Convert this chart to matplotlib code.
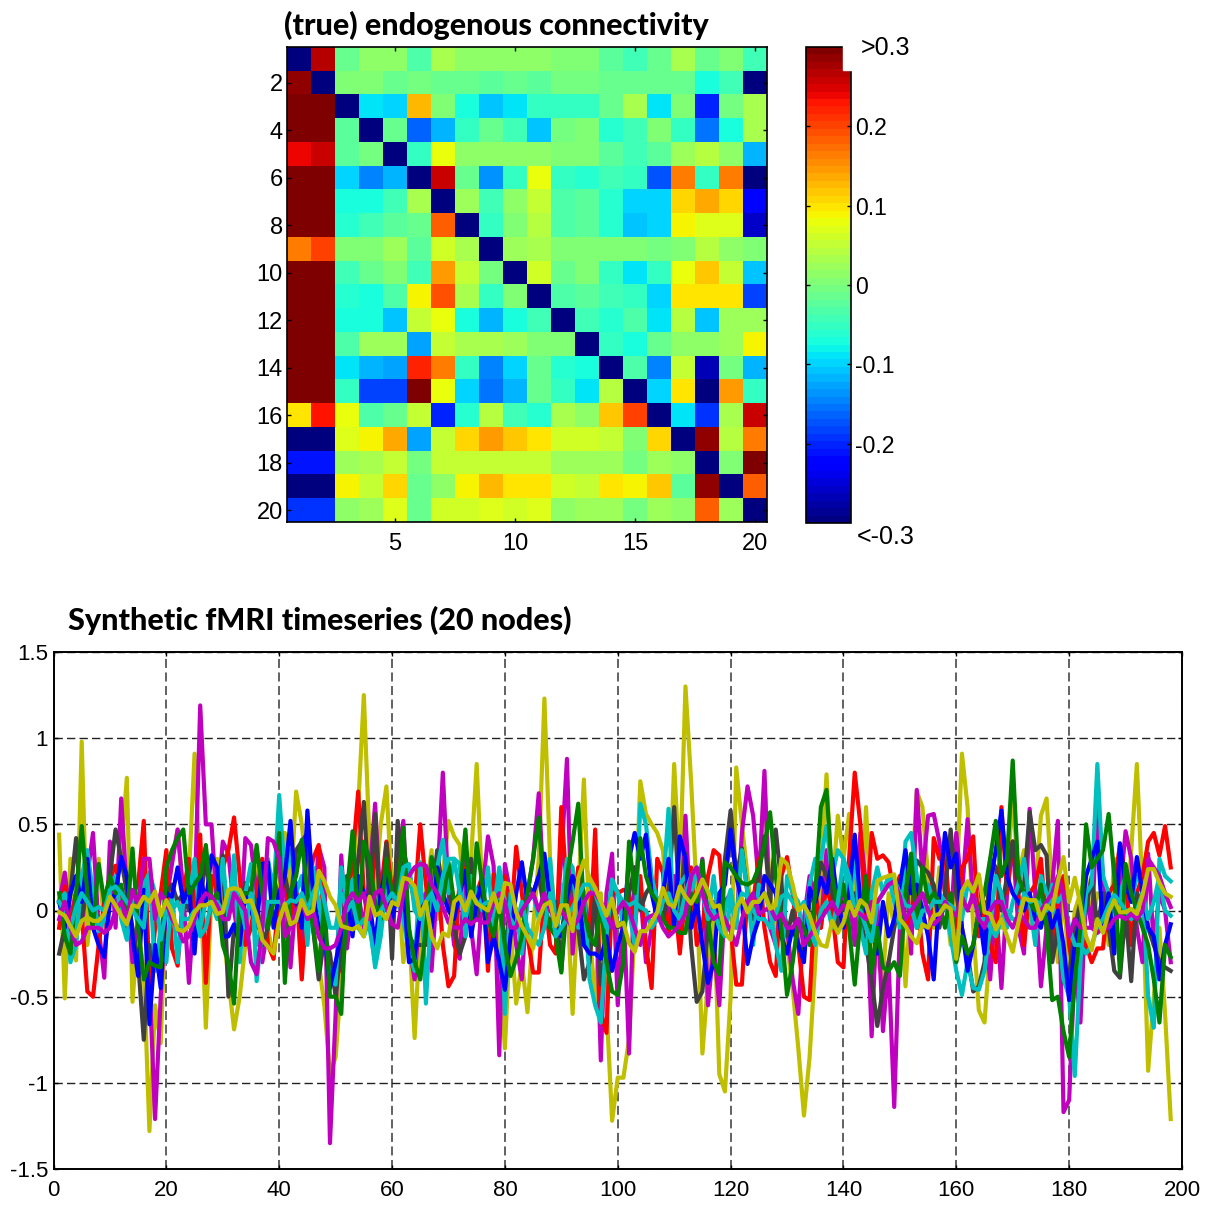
import matplotlib
matplotlib.use("Agg")
import matplotlib.pyplot as plt
import numpy as np
from matplotlib.patches import Rectangle

W = 1212
H = 1205

conn = [
 [-.3,.27,-.01,.01,.01,-.03,.03,.015,.01,.01,.01,0,.005,-.02,-.04,-.01,.03,-.01,0,-.04],
 [.29,-.3,0,.005,-.015,-.005,-.015,-.015,-.025,-.015,-.02,-.003,-.003,-.01,-.01,-.01,-.01,-.07,-.04,-.3],
 [.31,.31,-.3,-.085,-.095,.125,.005,-.07,-.105,-.09,-.05,-.05,-.055,-.015,.03,-.09,.005,-.205,-.005,.03],
 [.31,.31,-.02,-.3,-.015,-.16,-.115,-.055,-.015,-.04,-.105,-.003,.005,-.065,-.045,0,-.05,-.155,-.075,.03],
 [.235,.26,-.02,-.005,-.3,-.05,.075,.01,.01,.015,.015,0,0,-.02,-.04,-.02,.025,.04,.015,-.115],
 [.31,.31,-.1,-.15,-.12,-.3,.26,-.015,-.14,-.05,.075,-.055,-.065,-.045,-.05,-.175,.16,-.055,.165,-.3],
 [.31,.31,-.07,-.07,-.04,.03,-.3,.02,-.045,.01,.055,-.035,-.02,-.06,-.095,-.095,.11,.135,.105,-.22],
 [.31,.31,-.065,-.045,-.025,-.015,.18,-.3,-.05,.005,.045,-.035,-.025,-.065,-.105,-.095,.09,.07,.07,-.26],
 [.165,.2,0,0,.025,-.02,.06,.035,-.3,.02,.03,0,.005,.005,.005,-.005,.005,.045,.015,0],
 [.31,.31,-.04,-.01,.005,-.04,.145,.05,-.005,-.3,.06,-.01,0,-.05,-.09,-.055,.075,.115,.055,-.105],
 [.31,.31,-.065,-.075,-.03,.085,.195,.035,-.055,0,-.3,-.03,-.02,-.04,-.055,-.1,.1,.1,.1,-.18],
 [.31,.31,-.075,-.075,-.11,.055,.075,-.07,-.115,-.075,-.04,-.3,-.04,-.065,-.03,-.09,.04,-.105,.025,.02],
 [.31,.31,-.03,.025,.02,-.125,.05,.03,.03,.025,0,0,-.3,-.05,-.07,-.01,.015,.01,.02,.085],
 [.31,.31,-.09,-.115,-.125,.22,.16,-.05,-.15,-.095,-.015,-.065,-.07,-.3,-.03,-.15,.055,-.265,-.005,-.115],
 [.31,.31,-.05,-.185,-.185,.31,.075,-.1,-.155,-.115,-.01,-.05,-.085,.04,-.3,-.1,.095,-.3,.145,-.05],
 [.095,.225,.08,-.03,-.015,.055,-.205,-.065,.04,-.04,-.06,.03,.015,.115,.2,-.3,-.09,-.19,.03,.26],
 [-.3,-.3,.07,.085,.135,-.125,.055,.11,.145,.115,.1,.06,.06,.05,0,.11,-.3,.29,.04,.16],
 [-.215,-.215,.025,.03,.05,-.005,.05,.05,.05,.05,.05,.025,.025,.025,-.005,.025,.01,-.3,0,.3],
 [-.3,-.3,.085,.05,.105,-.01,.01,.085,.125,.095,.095,.06,.05,.095,.09,.115,-.02,.29,-.3,.185],
 [-.19,-.19,.015,.025,.07,-.01,.06,.06,.07,.06,.07,.015,.02,.02,-.005,.02,.01,.18,.025,-.3],
]

# spiky nodes, one value per scan (1..198)
olive = [.44,-.51,.3,-.29,.98,-.2,.1,.3,-.1,.2,
 .15,.35,.77,-.53,-.1,-.35,-1.28,-.55,-.77,.1,
 .3,.47,.1,.2,.91,.2,-.68,.1,.3,-.1,
 -.4,-.69,-.5,-.2,.1,.25,.05,-.1,-.28,.1,
 .45,.1,.69,.5,.2,-.1,-.3,-.55,-.95,-.85,
 -.4,-.1,.2,.6,1.25,.4,.1,.5,.72,.1,
 .2,-.3,-.1,-.74,-.1,.1,.35,-.05,.2,.52,
 .43,.38,0,.3,.85,.1,-.2,.15,-.3,-.8,
 -.1,-.54,-.3,-.59,-.1,.3,1.23,.3,-.1,.15,
 .1,-.6,.1,.76,-.1,-.55,.1,-.55,-1.22,-.97,
 -.97,-.75,-.1,.75,.56,.5,.45,.35,-.05,.85,
 .2,1.3,.75,.1,-.83,-.4,.05,-.95,-1.05,-.5,
 .83,.5,.2,-.1,.1,.75,.1,-.1,.2,-.2,
 -.45,-.8,-1.19,-.85,-.3,.2,.79,.1,.55,.3,
 .56,0,-.15,.6,-.1,-.3,-.4,.1,-.1,.2,
 -.44,.1,.69,.6,.2,-.1,.25,.1,-.2,.1,
 .91,.6,-.1,-.58,-.65,-.2,.05,-.1,.2,.66,
 .2,.35,-.1,.1,.55,.65,.1,-.3,.1,-.35,
 0,.1,.2,-.1,.1,.05,-.2,.3,.1,-.15,
 .35,.85,.1,-.93,-.5,-.1,-.6,-1.21]

magenta = [.05,.22,-.05,.1,-.1,.2,.45,-.1,-.39,.4,
 -.1,.65,.1,-.3,-.05,.3,-.4,-1.21,-.5,.05,
 .27,.47,.1,-.42,.05,1.19,.5,.5,0,.4,
 .33,0,-.2,.42,.38,.1,-.3,-.1,.2,.05,
 .2,-.33,.1,-.2,.05,-.1,.37,.25,-1.35,-.6,
 .32,-.22,.05,.1,-.1,.2,.62,0,.3,-.15,
 .3,.52,-.2,-.4,.05,.1,-.35,.15,.8,.1,
 -.2,-.28,.3,-.1,-.37,.1,.43,.26,-.84,.27,
 .1,-.2,-.4,.1,.3,.68,.05,.1,-.1,.3,
 .88,-.25,.15,-.2,-.05,.25,-.87,.1,.33,-.55,
 .05,-.83,.25,.1,-.3,-.1,0,.1,-.05,.2,
 -.2,.55,-.1,-.05,.3,-.55,-.2,-.55,.05,.1,
 -.1,.45,.72,.55,.15,.81,-.1,-.2,.05,-.1,
 -.4,-.6,-.05,.2,.1,-.1,.35,.05,-.1,.15,
 .1,-.2,.45,.15,-.73,.05,-.7,-.3,-1.14,-.1,
 .3,-.25,.7,.2,.55,.56,.4,.1,-.1,.45,
 .1,.53,.05,.2,-.1,-.4,.05,-.45,.1,.4,
 -.1,-.25,.59,.1,-.44,-.1,.15,.52,-1.17,-1.1,
 -.3,-.65,.1,-.1,.6,.2,-.1,.05,.1,.46,
 .3,-.1,-.3,.33,-.2,.1,0,-.3]

red = [-.1,.14,-.1,.1,-.02,-.47,-.5,-.2,.05,.2,
 .26,0,-.1,.1,.15,.52,-.45,-.1,.1,.35,
 -.22,-.32,.1,.3,-.05,.44,-.42,.2,.12,.25,
 .35,.54,.2,-.2,-.1,.1,.3,-.2,-.28,.1,
 .2,-.05,.16,-.4,.1,.3,.38,-.1,-.4,-.3,
 -.35,0,.3,.69,.1,-.1,.38,.1,.4,.1,
 .25,.36,.2,.05,.5,.15,-.05,.25,-.2,-.44,
 -.38,.2,.25,-.05,.1,.2,-.35,.21,.1,.2,
 -.1,.37,.1,-.15,-.36,-.36,.1,-.2,-.25,.6,
 .1,-.05,.25,.1,-.2,.47,-.59,-.71,.1,.1,
 .12,.1,-.1,.2,-.2,-.45,.3,.22,-.15,.1,
 -.25,.1,.25,-.2,-.1,.2,.35,.32,-.1,-.1,
 -.43,-.43,.1,.05,.3,-.1,-.3,-.38,.2,.31,
 .1,-.2,-.5,-.52,.1,-.1,.15,0,-.3,-.33,
 .3,.8,.5,-.1,.45,.3,.32,.28,.1,.2,
 -.1,0,.1,-.25,-.4,.42,.3,.35,-.1,-.1,
 .25,.3,.43,-.15,.05,-.2,-.3,.6,.1,.4,
 .1,-.2,.1,.15,.3,-.1,-.2,.1,.2,-.2,
 -.4,-.1,-.2,-.3,-.22,-.22,.1,.15,.38,.2,
 -.2,.1,.2,.4,.45,.32,.49,.25]

green = [.1,-.15,-.25,.1,.49,.1,-.1,.27,.05,.2,
 .1,.15,-.05,.36,-.1,-.4,-.3,-.32,-.33,.25,
 .35,.42,.47,.1,.15,.2,.38,.05,.1,-.2,
 -.3,-.54,.05,.1,.1,.38,.1,-.1,.05,.45,
 -.42,.1,.2,.41,.1,-.1,-.35,.05,-.5,-.5,
 -.6,.1,.46,-.1,.4,.3,.05,-.05,.3,.1,
 .1,.48,-.1,-.3,-.4,-.1,.31,.2,.05,.28,
 .05,.1,.47,-.05,.39,.15,-.05,-.15,.05,-.2,
 -.38,-.28,-.15,.1,.3,.54,.05,-.1,-.15,-.36,
 .2,.4,.62,0,-.15,-.2,.04,-.3,-.47,-.49,
 -.3,.4,.1,.42,.2,.1,.05,-.05,-.1,-.1,
 -.13,-.13,.1,.05,.29,-.05,-.3,-.37,.28,.25,
 .2,.16,.15,.17,.25,.38,.57,.2,-.1,-.49,
 -.3,-.05,-.1,-.2,.1,.6,.7,.2,.02,.15,
 -.1,-.43,-.05,.2,-.36,-.1,-.33,-.35,-.3,-.38,
 .1,.33,-.1,.25,.05,.1,.05,-.1,.1,-.3,
 -.15,-.25,-.2,0,.1,.3,.52,.2,.3,.87,
 .2,.1,.05,0,.15,-.1,-.52,-.5,-.7,-.85,
 -.4,-.1,.5,.25,.3,.35,.56,.2,-.36,.27,
 .1,0,-.1,-.2,-.4,-.65,-.2,-.27]

blue = [.05,-.1,.1,.2,.05,.3,-.1,-.2,-.27,.05,
 .1,.31,.2,-.15,-.38,.12,-.66,-.2,-.45,.1,
 .08,.25,.05,.14,-.25,.2,.05,.32,.25,-.15,
 -.15,-.08,-.2,.1,0,-.1,.27,.28,-.1,.1,
 .2,.52,.05,-.1,.58,.1,-.1,-.13,-.45,-.3,
 -.13,.07,-.15,.2,.1,.05,-.2,.1,.25,-.05,
 .1,.15,-.3,-.28,0,.05,-.1,.25,.1,0,
 -.05,.1,.23,-.15,.05,.18,-.3,-.15,-.3,-.46,
 -.15,.1,.28,.05,.1,.2,.33,.05,-.1,-.15,
 .09,.2,.1,-.2,-.25,-.25,-.28,-.15,-.35,-.2,
 -.1,.3,.45,.3,.44,.1,-.05,.1,.3,-.1,
 .43,.3,-.1,.05,-.2,-.42,-.3,.1,.15,.47,
 .2,.05,-.31,-.15,-.05,.2,.15,.1,-.15,-.25,
 -.1,-.2,-.3,.13,.05,.19,.1,.3,.05,-.1,
 .1,.44,.05,0,-.1,-.25,.05,-.15,-.05,.15,
 .35,.1,.15,0,-.15,-.4,.1,.45,.25,.33,
 -.1,-.35,-.2,0,-.25,.15,.35,.58,.2,.1,
 .05,0,.1,-.05,-.1,.05,-.1,0,-.2,-.52,
 -.2,-.05,.2,.3,.4,-.1,.1,-.25,.39,.15,
 .05,.31,.1,-.1,-.15,-.4,-.2,-.08]

cyan = [.05,.1,-.3,-.2,.2,.35,.1,-.12,-.05,.15,
 .2,-.05,-.17,.1,-.1,.15,.22,-.35,-.1,-.3,
 .1,-.3,.05,.05,.3,-.1,.05,.05,-.05,.3,
 -.05,.32,-.3,.1,.27,-.41,-.1,.3,.1,.67,
 .2,.35,.1,.2,-.2,.25,.05,-.15,-.4,-.43,
 .25,.05,.18,-.1,-.15,-.05,-.33,-.15,.15,.1,
 .05,-.05,-.25,-.35,.28,-.54,.05,.25,.41,.1,
 .3,.27,-.15,.2,.1,0,.25,-.1,.2,-.6,
 .1,0,-.25,.05,.1,-.05,.1,.3,-.1,0,
 .3,.25,-.1,.1,-.4,-.55,-.65,-.15,.18,.1,
 -.1,0,-.2,.62,.5,.2,.05,.1,.59,-.1,
 .15,.2,.1,.22,.2,-.05,.2,-.1,0,.12,
 -.1,.35,.1,-.2,.15,.1,0,-.2,-.35,.2,
 .1,.05,-.2,.15,.3,.3,.49,.2,.35,.3,
 .05,.3,-.1,-.25,.1,.25,.1,.2,.05,-.1,
 .4,.45,.2,-.1,.15,.05,.1,.05,-.15,-.35,
 -.49,-.3,-.45,-.46,-.35,-.1,.2,.1,-.1,.05,
 .15,.3,.05,-.2,.2,.1,.05,-.1,-.4,-.5,
 -.96,-.3,.1,.15,.85,.2,.1,-.15,.1,.2,
 .05,.2,.15,-.5,-.68,.3,.2,.17]

grey = [-.25,-.1,.1,.42,-.05,.2,.1,-.1,-.05,.2,
 .47,.3,.1,-.1,-.3,-.75,-.2,-.3,-.15,.1,
 .15,.05,.1,0,.2,.05,.3,.05,.1,.32,
 -.5,-.1,-.05,.16,.1,.05,-.2,-.1,.15,.05,
 .2,.05,.35,.4,.45,-.1,-.4,-.15,-.25,-.5,
 -.2,.2,-.05,.3,.63,.05,.56,-.1,.39,-.28,
 .52,.1,-.15,-.2,-.2,-.2,.05,.35,.1,.15,
 -.1,-.25,-.15,.3,-.05,.1,0,-.1,.05,-.3,
 .1,0,-.2,.15,.1,.2,0,-.1,.05,-.35,
 .05,.2,-.1,-.4,-.3,.1,-.43,-.2,.05,-.1,
 -.05,.1,.25,0,.1,.15,.05,-.05,.1,.6,
 0,.33,-.2,-.53,-.47,-.1,.05,-.1,.3,.58,
 .2,.36,.1,-.05,.2,.43,.05,.47,.15,-.15,
 0,-.2,-.25,.05,.1,.28,.2,.1,-.1,.05,
 0,.1,-.05,-.2,-.4,-.67,-.45,-.3,-.1,.1,
 .05,.15,.29,.25,.22,.15,-.1,.1,.47,.1,
 -.1,-.25,-.47,-.44,-.3,.3,.25,0,.2,.4,
 .1,.15,.57,.35,.38,.32,-.3,-.1,-.42,-.38,
 -.1,.05,0,.2,-.1,.1,-.1,-.35,-.39,0,
 -.41,.1,.05,-.1,-.2,-.3,-.33,-.35]

# low amplitude nodes drawn last
cyan_low = [.05,0,-.1,.02,.1,.05,0,.02,0,.12,
 .14,.1,.05,0,-.05,-.1,.22,.1,-.17,0,
 0,.05,-.05,-.05,0,-.15,-.1,.05,.05,0,
 .05,.15,.05,-.1,.1,-.2,-.1,.05,.05,.05,
 .03,.06,.05,.1,0,.1,.18,.05,-.1,-.1,
 .1,0,.05,-.1,-.05,-.1,-.3,0,.05,.1,
 .05,.25,.27,0,-.05,.05,.1,0,.2,.3,
 .3,.1,-.05,.1,.05,.03,.05,0,.25,.05,
 -.05,-.1,.05,-.1,-.15,-.2,-.1,.1,-.15,-.1,
 -.05,.02,.08,.15,.15,.1,0,-.1,.17,.1,
 .05,.03,.05,.02,0,-.1,-.05,.05,.1,0,
 -.05,.1,.2,.25,.1,-.05,0,-.1,-.15,.05,
 -.02,.1,.08,0,-.05,-.05,-.1,-.02,.08,.1,
 .05,0,.05,-.1,-.2,0,.05,-.1,.05,.3,
 .2,0,0,-.1,-.18,.05,.1,.2,.18,.1,
 .03,.02,-.1,0,0,.05,.05,.05,.03,0,
 -.05,.15,.1,-.05,-.05,-.1,-.15,-.05,0,-.05,
 -.05,.1,.05,.06,.03,0,.15,.05,.1,-.1,
 -.2,-.2,-.25,-.2,-.1,-.05,.03,.09,.05,0,
 -.05,0,.1,-.05,.05,.2,0,-.03]

magenta_low = [-.05,.05,-.1,-.2,-.18,-.1,-.1,-.1,-.13,-.1,
 0,.05,-.05,.12,.03,.3,.3,-.05,.1,.05,
 -.05,-.1,-.18,-.15,-.05,.05,.1,.08,.03,-.05,
 -.05,.1,.05,0,-.3,-.37,-.1,.42,.4,.3,
 -.15,-.1,0,.05,-.05,0,-.15,-.22,-.22,-.2,
 -.1,.05,.1,.05,.1,-.05,.1,.12,.02,-.08,
 -.1,.1,.2,.25,.27,.26,.15,.1,.02,-.07,
 -.1,-.1,-.05,-.08,-.05,-.07,-.07,.05,.1,.05,
 -.1,-.1,0,.05,.1,0,.1,0,-.05,0,
 -.05,-.1,-.05,.05,.1,.1,.05,-.02,-.1,0,
 .05,0,-.1,-.2,-.05,-.03,-.02,-.1,-.15,-.12,
 -.08,-.02,.2,.25,.1,0,-.05,-.02,-.05,-.12,
 -.2,-.05,.05,.1,-.02,0,.02,-.05,-.02,-.1,
 -.1,-.05,-.2,-.15,-.1,-.05,0,.05,-.02,.03,
 .02,0,-.02,-.05,.05,.05,.1,.15,.17,.08,
 -.05,0,.05,.1,0,-.08,-.05,.05,0,-.03,
 .08,0,.1,-.05,-.1,0,.05,.05,-.05,-.1,
 -.02,-.05,-.1,-.1,0,.05,.1,.2,.1,-.15,
 -.05,-.1,-.1,-.1,-.13,-.1,-.1,-.05,-.03,-.05,
 -.02,-.05,0,.3,.25,.2,.1,.02]

olive_low = [-.01,-.03,-.09,-.15,-.06,-.04,-.06,-.06,-.02,.08,
 .03,-.03,-.08,.03,.02,.08,.05,.11,-.03,.06,
 -.01,-.11,-.12,-.09,-.01,.03,.03,.05,-.02,-.01,
 .12,.13,.12,.05,.06,-.03,-.17,-.21,-.25,-.06,
 .04,-.08,-.06,.06,-.02,0,.23,.17,.08,.03,
 -.09,-.1,-.11,-.09,-.15,.08,-.03,-.01,-.05,.05,
 .03,.19,.18,.14,-.03,.05,-.15,-.22,-.13,-.15,
 .05,.08,0,.11,.04,.02,0,.1,-.01,.16,
 .15,-.01,-.09,-.15,-.22,-.05,.03,.05,-.09,.03,
 .03,-.12,.19,.29,.19,.13,.05,-.03,.07,-.09,
 -.07,-.19,-.24,-.12,-.12,-.07,-.01,.13,.04,.02,
 .14,.08,.04,.1,.18,.11,.02,.03,-.13,-.17,
 .02,.07,-.01,.05,.05,.1,.01,.03,.3,.27,
 .15,0,.03,-.03,-.13,-.2,-.21,-.06,-.13,-.07,
 .05,-.03,.06,.03,-.07,.17,.19,.2,.21,-.05,
 -.09,-.15,-.19,-.08,-.1,-.03,-.02,.03,.01,-.28,
 .11,.17,.11,.21,-.01,-.02,-.11,-.05,-.15,-.24,
 -.07,.07,.06,.06,-.05,.03,0,.17,.31,.05,
 .19,.03,-.15,-.23,-.05,-.13,-.01,.06,-.01,-.01,
 .01,-.02,.09,.24,.24,.16,.1,.08]

cbar_ticks = [-.2, -.1, 0, .1, .2]
cbar_labels = ["-0.2", "-0.1", "0", "0.1", "0.2"]
y_ticks = [-1.5, -1, -.5, 0, .5, 1, 1.5]
y_labels = ["-1.5", "-1", "-0.5", "0", "0.5", "1", "1.5"]


def box(x0, y0, x1, y1):
    # pixel box (top left origin) to figure fractions
    return [x0 / W, 1 - y1 / H, (x1 - x0) / W, (y1 - y0) / H]


plt.rcParams["font.family"] = ["Liberation Sans", "DejaVu Sans"]
plt.rcParams["font.size"] = 16

fig = plt.figure(figsize=(W / 100, H / 100), dpi=100)

ax1 = fig.add_axes(box(287, 47, 767, 522))
im = ax1.imshow(conn, cmap=plt.get_cmap("jet", 64), vmin=-.3, vmax=.3,
                aspect="auto", interpolation="nearest")
ax1.set_xticks([4, 9, 14, 19])
ax1.set_xticklabels(["5", "10", "15", "20"])
ax1.set_yticks(np.arange(1, 20, 2))
ax1.set_yticklabels([str(i) for i in range(2, 21, 2)])
ax1.tick_params(direction="in", length=3, width=1, top=True, right=True, labelsize=17)
ax1.tick_params(axis="x", pad=8)
ax1.tick_params(axis="y", pad=3)
for s in ax1.spines.values():
    s.set_linewidth(1.2)

cax = fig.add_axes(box(806, 47, 851, 523))
cb = fig.colorbar(im, cax=cax, ticks=cbar_ticks)
cb.ax.set_yticklabels(cbar_labels)
cb.ax.tick_params(direction="in", length=3, width=1, left=True, right=True, pad=3, labelsize=16.5)
cb.outline.set_linewidth(1.2)
cax.add_patch(Rectangle((.82, .952), .25, .06, transform=cax.transAxes,
                        color="white", clip_on=False, zorder=10))
fig.text(861 / W, 1 - 48 / H, ">0.3", ha="left", va="center", size=18)
fig.text(857 / W, 1 - 537 / H, "<-0.3", ha="left", va="center", size=18)

ax2 = fig.add_axes(box(53.5, 652, 1182, 1169))
x = np.arange(1, 199)
ax2.plot(x, olive, color="#bfbf00", lw=3)
ax2.plot(x, magenta, color="#bf00bf", lw=3)
ax2.plot(x, red, color="#ff0000", lw=3)
ax2.plot(x, grey, color="#404040", lw=3)
ax2.plot(x, cyan, color="#00bfbf", lw=3)
ax2.plot(x, blue, color="#0000ff", lw=3)
ax2.plot(x, green, color="#007f00", lw=3)
ax2.plot(x, cyan_low, color="#00bfbf", lw=3)
ax2.plot(x, magenta_low, color="#bf00bf", lw=3)
ax2.plot(x, olive_low, color="#bfbf00", lw=3)
ax2.set_xlim(0, 200)
ax2.set_ylim(-1.5, 1.5)
ax2.set_xticks(np.arange(0, 201, 20))
ax2.set_yticks(y_ticks)
ax2.set_yticklabels(y_labels)
ax2.grid(True, axis="y", color="#222222", linestyle=(0, (6, 3)), linewidth=1)
ax2.grid(True, axis="x", color="#555555", linestyle=(0, (5, 2.5)), linewidth=1.3)
ax2.set_axisbelow(True)
ax2.tick_params(direction="in", length=3, width=1, top=True, right=True)
ax2.tick_params(axis="x", pad=8)
ax2.tick_params(axis="y", pad=4)
for s in ax2.spines.values():
    s.set_linewidth(1.4)

fig.text(284 / W, 1 - 25 / H, "(true) endogenous connectivity", family="Lato",
         weight="black", size=22, ha="left", va="center")
fig.text(68 / W, 1 - 620 / H, "Synthetic fMRI timeseries (20 nodes)", family="Lato",
         weight="black", size=22, ha="left", va="center")

fig.savefig("out.png", dpi=100)
